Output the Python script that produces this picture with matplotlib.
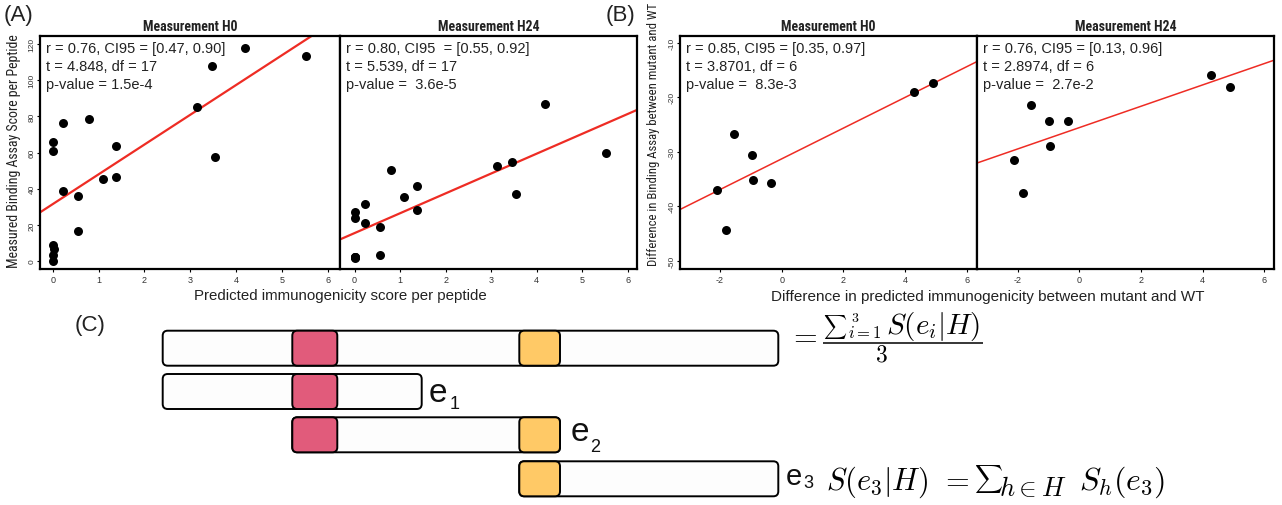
import numpy as np
import matplotlib
matplotlib.use("Agg")
import matplotlib.pyplot as plt
from matplotlib.patches import FancyBboxPatch

plt.rcParams['font.family'] = ['Liberation Sans', 'DejaVu Sans']
plt.rcParams['mathtext.fontset'] = 'cm'
plt.rcParams['axes.unicode_minus'] = False

W, H = 1282, 506
NARROW = ['Roboto Condensed', 'Noto Sans Condensed', 'Liberation Sans Narrow',
          'Open Sans Condensed', 'Liberation Sans']

# ---- panel A : predicted immunogenicity vs measured binding assay ----
a_h0_x = [4.19, 3.47, 5.52, 3.14, 0.23, 0.79, 0, 0, 1.39, 3.54,
          1.10, 1.39, 0.22, 0.55, 0.55, 0, 0.02, 0, 0]
a_h0_y = [117.8, 107.7, 113.4, 84.9, 76.2, 78.6, 65.6, 60.8, 63.5, 57.6,
          45.3, 46.6, 38.7, 35.9, 16.4, 8.7, 6.8, 3.3, 0]
a_h24_x = [4.18, 5.51, 3.13, 3.46, 3.54, 0.79, 1.38, 1.08, 1.38, 0.22,
           0, 0, 0.22, 0.55, 0.55, 0, 0, 0, 0]
a_h24_y = [86.9, 59.7, 52.3, 54.5, 37.0, 50.1, 41.3, 35.4, 28.0, 31.5,
           27.1, 23.6, 21.0, 19.0, 3.5, 2.4, 1.6, 2.0, 2.2]

# ---- panel B : differences mutant vs WT ----
b_h0_x = [4.30, 4.90, -1.55, -0.96, -0.94, -0.35, -2.11, -1.80]
b_h0_y = [-19.1, -17.45, -26.7, -30.6, -35.1, -35.8, -37.1, -44.4]
b_h24_x = [4.28, 4.89, -1.58, -0.99, -0.38, -0.97, -2.14, -1.82]
b_h24_y = [-15.9, -18.2, -21.4, -24.3, -24.4, -28.9, -31.5, -37.5]

titles = ["Measurement H0", "Measurement H24"]
a_stats = [["r = 0.76, CI95 = [0.47, 0.90]", "t = 4.848, df = 17", "p-value = 1.5e-4"],
           ["r = 0.80, CI95  = [0.55, 0.92]", "t = 5.539, df = 17", "p-value =  3.6e-5"]]
b_stats = [["r = 0.85, CI95 = [0.35, 0.97]", "t = 3.8701, df = 6", "p-value =  8.3e-3"],
           ["r = 0.76, CI95 = [0.13, 0.96]", "t = 2.8974, df = 6", "p-value =  2.7e-2"]]

a_xticks = [0, 1, 2, 3, 4, 5, 6]
a_yticks = [0, 20, 40, 60, 80, 100, 120]
b_xticks = [-2, 0, 2, 4, 6]
b_yticks = [-50, -40, -30, -20, -10]

# ---- panel C : epitope diagram (pixel units) ----
row_top = [331.7, 375.0, 418.3, 462.3]
row_span = [(162.7, 778.3), (162.7, 421.7), (292.3, 560.0), (519.3, 778.3)]
red_epi = (292.3, 337.3)
orange_epi = (519.3, 560.0)
red_rows = [0, 1, 2]
orange_rows = [0, 2, 3]
row_h = 35

fig = plt.figure(figsize=(W / 100, H / 100), dpi=100)

# background axes in pixel coordinates for labels and diagram
bg = fig.add_axes([0, 0, 1, 1])
bg.set_xlim(0, W)
bg.set_ylim(H, 0)
bg.axis('off')


def rect(x0, y0, x1, y1):
    return [x0 / W, 1 - y1 / H, (x1 - x0) / W, (y1 - y0) / H]


def panel(box, xs, ys, xlim, ylim, xticks, yticks, title, stats, show_y, lw):
    ax = fig.add_axes(rect(*box))
    ax.scatter(xs, ys, s=42, c='black', zorder=3, linewidths=0)
    k, b = np.polyfit(xs, ys, 1)
    lx = np.array(xlim)
    ax.plot(lx, k * lx + b, color='#ee2c24', lw=lw, zorder=2)
    ax.set_xlim(xlim)
    ax.set_ylim(ylim)
    ax.set_xticks(xticks)
    ax.tick_params(axis='x', length=2.5, width=0.8, pad=2, labelsize=6.5,
                   labelcolor='#333333')
    if show_y:
        ax.set_yticks(yticks)
        ax.tick_params(axis='y', length=2, width=0.8, pad=1, labelsize=6,
                       labelcolor='#333333')
        for t in ax.get_yticklabels():
            t.set_rotation(90)
            t.set_va('center')
    else:
        ax.set_yticks([])
    for sp in ax.spines.values():
        sp.set_linewidth(1.6)
    ax.set_title(title, fontsize=10, fontweight='bold', family=NARROW,
                 fontstretch='condensed', color='#222222', pad=4)
    for i, line in enumerate(stats):
        ax.text(0.02, 0.978 - i * 0.078, line, transform=ax.transAxes,
                fontsize=10.5, va='top', ha='left', color='#222222')
    return ax


a_xlim = (-0.28, 6.27)
a_ylim = (-4.4, 124.4)
panel((40, 37, 340, 270), a_h0_x, a_h0_y, a_xlim, a_ylim, a_xticks, a_yticks,
      titles[0], a_stats[0], True, 1.6)
panel((340, 37, 637, 270), a_h24_x, a_h24_y, (-0.32, 6.2), a_ylim, a_xticks,
      a_yticks, titles[1], a_stats[1], False, 1.6)

b_ylim = (-51.5, -8.8)
panel((680, 37, 977, 270), b_h0_x, b_h0_y, (-3.3, 6.33), b_ylim, b_xticks,
      b_yticks, titles[0], b_stats[0], True, 1.1)
panel((977, 37, 1274, 270), b_h24_x, b_h24_y, (-3.33, 6.32), b_ylim, b_xticks,
      b_yticks, titles[1], b_stats[1], False, 1.1)

# axis labels
bg.text(340, 296, "Predicted immunogenicity score per peptide", fontsize=10.8,
        ha='center', va='center', color='#222222')
bg.text(14, 151, "Measured Binding Assay Score per Peptide", fontsize=10,
        family=NARROW, fontstretch='condensed', rotation=90, ha='center',
        va='center', color='#222222')
bg.text(988, 297, "Difference in predicted immunogenicity between mutant and WT",
        fontsize=11, ha='center', va='center', color='#222222')
bg.text(653, 134, "Difference in Binding Assay between mutant and WT", fontsize=9.2,
        family=NARROW, fontstretch='condensed', rotation=90, ha='center',
        va='center', color='#222222')

# panel letters
bg.text(4, 15, "(A)", fontsize=16, ha='left', va='center', color='#222222')
bg.text(606, 15, "(B)", fontsize=16, ha='left', va='center', color='#222222')
bg.text(75, 325, "(C)", fontsize=16, ha='left', va='center', color='#222222')

# diagram
box_style = "round,pad=0,rounding_size=5"
for top, (x0, x1) in zip(row_top, row_span):
    bg.add_patch(FancyBboxPatch((x0, top), x1 - x0, row_h, boxstyle=box_style,
                                fc='#fdfdfd', ec='black', lw=1.4))
for r in red_rows:
    bg.add_patch(FancyBboxPatch((red_epi[0], row_top[r]), red_epi[1] - red_epi[0],
                                row_h, boxstyle=box_style, fc='#e15b7b',
                                ec='black', lw=1.4))
for r in orange_rows:
    bg.add_patch(FancyBboxPatch((orange_epi[0], row_top[r]),
                                orange_epi[1] - orange_epi[0], row_h,
                                boxstyle=box_style, fc='#ffc966', ec='black',
                                lw=1.4))

# epitope labels: (x of "e", centre y, size, x of index, index offset)
e_labels = [(429, 394, 24, 450, 11), (571, 433, 24, 590, 15), (786, 477, 21, 803, 7)]
for i, (ex, ey, es, sx, sdy) in enumerate(e_labels):
    bg.text(ex, ey, "e", fontsize=es, ha='left', va='center', color='#111111')
    bg.text(sx, ey + sdy, str(i + 1), fontsize=13, ha='left', va='center',
            color='#111111')

# S(e3|H) = sum_{h in H} S_h(e3)
bg.text(826, 490, r"$S(e_3|H)$", fontsize=22, ha='left', va='baseline')
bg.text(940, 480, r"$=$", fontsize=22, ha='left', va='center')
bg.text(974, 479, r"$\sum$", fontsize=14, ha='left', va='center')
bg.text(999, 496, r"$h\in H$", fontsize=19, ha='left', va='baseline')
bg.text(1079, 490, r"$S_h(e_3)$", fontsize=23, ha='left', va='baseline')

# = (sum_{i=1}^3 S(e_i|H)) / 3
bg.text(788, 336.5, r"$=$", fontsize=22, ha='left', va='center')
bg.text(823, 327, r"$\sum$", fontsize=11.5, ha='left', va='center')
bg.text(851, 318, r"$3$", fontsize=10, ha='left', va='center')
bg.text(848, 333, r"$i=1$", fontsize=12, ha='left', va='center')
bg.text(886, 334, r"$S(e_i|H)$", fontsize=21, ha='left', va='baseline')
bg.hlines(344, 823, 983, color='black', lw=1.1)
bg.text(881, 355, r"$3$", fontsize=17, ha='center', va='center')

fig.savefig("out.png", dpi=100)
